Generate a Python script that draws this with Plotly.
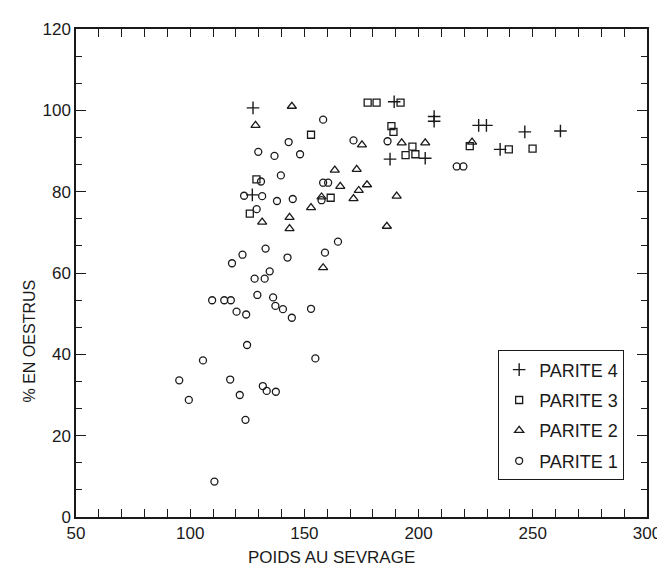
import plotly.graph_objects as go

# PARITE 4 (+)
p4_x = [127.5, 127.2, 189.3, 206.8, 206.8, 187.5, 202.9, 226.3, 229.7, 246.5, 262.1, 235.7]
p4_y = [100.6, 79.2, 102.1, 98.5, 97.3, 88.0, 88.2, 96.3, 96.3, 94.7, 94.9, 90.4]

# PARITE 3 (square)
p3_x = [177.7, 181.6, 192.1, 152.9, 188.1, 189.0, 197.3, 194.3, 198.6, 161.5, 126.1, 129.0, 222.4, 239.5, 249.9]
p3_y = [101.9, 101.9, 101.9, 94.0, 96.1, 94.7, 91.1, 89.0, 89.2, 78.5, 74.6, 83.0, 91.2, 90.4, 90.6]

# PARITE 2 (triangle)
p2_x = [128.6, 144.5, 175.2, 192.6, 202.9, 163.3, 172.9, 165.7, 177.4, 173.8, 157.5, 171.5, 190.4,
        152.9, 131.5, 143.5, 143.5, 186.1, 158.2, 223.4]
p2_y = [96.3, 101.0, 91.5, 92.0, 92.0, 85.3, 85.5, 81.3, 81.7, 80.3, 78.7, 78.3, 78.9,
        76.1, 72.5, 73.7, 70.9, 71.5, 61.3, 92.2]

# PARITE 1 (circle)
p1_x = [129.8, 136.9, 148.1, 158.2, 143.1, 171.5, 186.4, 139.7, 131.0, 158.2, 160.4, 123.6, 131.5,
        138.0, 144.9, 157.5, 129.1, 164.7, 133.0, 142.6, 159.0, 122.9, 118.3, 134.8, 128.2, 132.6,
        129.4, 136.3, 137.3, 140.6, 144.5, 152.9, 109.6, 114.9, 117.8, 120.3, 124.5, 124.9, 105.6,
        95.2, 117.5, 131.8, 133.5, 137.5, 121.7, 99.4, 124.2, 110.6, 154.8, 216.7, 219.6]
p1_y = [89.8, 88.8, 89.2, 97.7, 92.2, 92.6, 92.4, 84.0, 82.5, 82.2, 82.2, 79.0, 78.9,
        77.7, 78.2, 77.9, 75.7, 67.7, 66.0, 63.8, 65.0, 64.5, 62.4, 60.4, 58.6, 58.6,
        54.6, 54.0, 51.9, 51.1, 49.0, 51.2, 53.3, 53.3, 53.3, 50.5, 49.8, 42.3, 38.5,
        33.6, 33.8, 32.2, 31.0, 30.8, 30.0, 28.8, 23.9, 8.7, 39.0, 86.2, 86.2]

x_ticks = [50, 100, 150, 200, 250, 300]
y_ticks = [0, 20, 40, 60, 80, 100, 120]
y_minor = [v + k * 20 / 3 for v in y_ticks[:-1] for k in (1, 2)]

x_title = "POIDS AU SEVRAGE"
y_title = "% EN OESTRUS"

ink = "#1a1a1a"
font = "Liberation Sans, Arial, Helvetica, sans-serif"

fig = go.Figure()
series = [
    ("PARITE 4", p4_x, p4_y, "cross-thin-open", 9, 1.4),
    ("PARITE 3", p3_x, p3_y, "square-open", 7, 1.3),
    ("PARITE 2", p2_x, p2_y, "triangle-up-open", 8, 1.3),
    ("PARITE 1", p1_x, p1_y, "circle-open", 7, 1.3),
]
for name, xs, ys, sym, sz, lw in series:
    fig.add_trace(go.Scatter(x=xs, y=ys, mode="markers", name=name, legendgroup=name,
                             marker=dict(symbol=sym, size=sz, color=ink,
                                         line=dict(color=ink, width=lw))))

fig.update_layout(
    width=665, height=567,
    margin=dict(l=68, r=19, t=20, b=58),
    paper_bgcolor="white", plot_bgcolor="white",
    font=dict(family=font, size=17, color=ink),
    showlegend=True,
    legend=dict(x=0.96, y=0.075, xanchor="right", yanchor="bottom",
                bgcolor="white", bordercolor=ink, borderwidth=1,
                font=dict(size=18, color=ink), tracegroupgap=4,
                itemsizing="trace"),
    annotations=[
        dict(text=x_title, xref="paper", yref="paper", x=0.448, y=-0.082,
             xanchor="center", yanchor="middle", showarrow=False,
             font=dict(size=17, color=ink, family=font)),
        dict(text=y_title, xref="paper", yref="paper", x=-0.082, y=0.36,
             xanchor="center", yanchor="middle", showarrow=False, textangle=-90,
             font=dict(size=16, color=ink, family=font)),
    ],
)
fig.update_xaxes(
    range=[50, 300], tickmode="array", tickvals=x_ticks,
    ticks="inside", ticklen=8, tickwidth=1.2, tickcolor=ink,
    minor=dict(dtick=10, tick0=50, ticks="inside", ticklen=8, tickwidth=1.2, tickcolor=ink),
    showline=True, linecolor=ink, linewidth=1.5, mirror="allticks",
    showgrid=False, zeroline=False, tickfont=dict(size=17),
)
fig.update_yaxes(
    range=[0, 120], tickmode="array", tickvals=y_ticks,
    ticks="inside", ticklen=10, tickwidth=1.2, tickcolor=ink,
    minor=dict(tickmode="array", tickvals=y_minor, ticks="inside", ticklen=6,
               tickwidth=1.2, tickcolor=ink),
    showline=True, linecolor=ink, linewidth=1.5, mirror="allticks",
    showgrid=False, zeroline=False, tickfont=dict(size=17),
)

fig.write_html("out.html")
